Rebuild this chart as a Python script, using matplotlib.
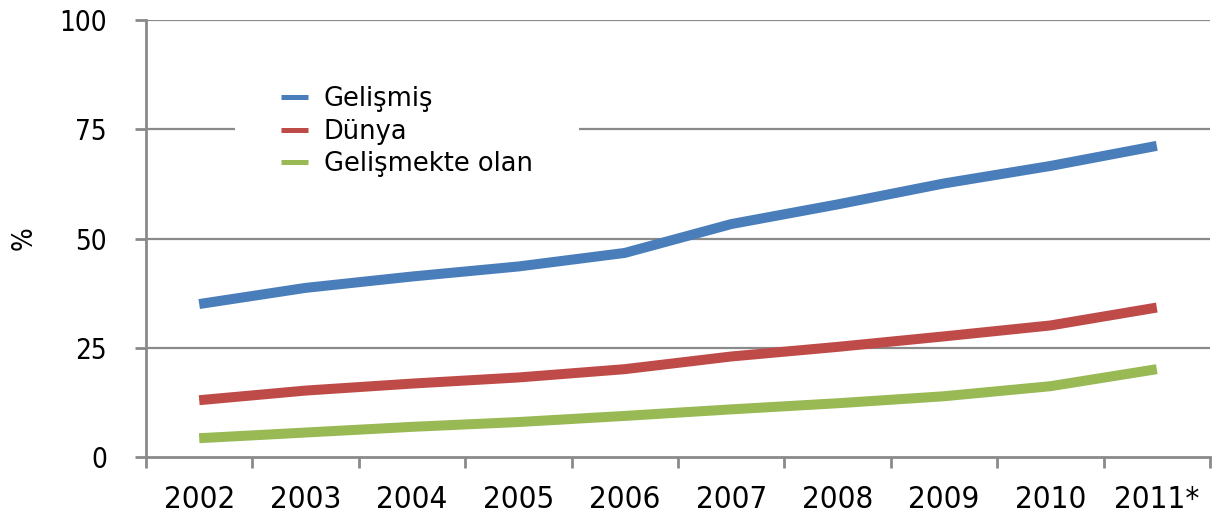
import matplotlib
matplotlib.use("Agg")
import matplotlib.pyplot as plt
from matplotlib import font_manager as fm
import numpy as np

years = ["2002", "2003", "2004", "2005", "2006", "2007", "2008", "2009", "2010", "2011*"]
gelismis = [35.0, 38.7, 41.3, 43.6, 46.7, 53.3, 57.8, 62.6, 66.6, 71.2]
dunya = [13.0, 15.2, 16.8, 18.2, 20.1, 23.0, 25.2, 27.6, 30.1, 34.2]
gelismekte = [4.3, 5.6, 6.9, 8.0, 9.4, 10.9, 12.3, 13.9, 16.2, 20.1]
series_names = ["Gelişmiş", "Dünya", "Gelişmekte olan"]
colors = ["#4A7EBB", "#BE4B48", "#98B954"]
yticks = [0, 25, 50, 75, 100]


def pick_narrow():
    cands = [("Liberation Sans Narrow", "normal"), ("DejaVu Sans", "condensed"), ("Roboto", "normal")]
    for fam, stretch in cands:
        try:
            p = fm.findfont(fm.FontProperties(family=fam, stretch=stretch), fallback_to_default=False)
        except Exception:
            continue
        if fam == "DejaVu Sans" and "ondensed" not in p:
            continue
        if fam == "Liberation Sans Narrow" and "arrow" not in p:
            continue
        return fam, stretch
    return "DejaVu Sans", "normal"


nfam, nstretch = pick_narrow()

W, H = 1231, 517
fig = plt.figure(figsize=(W / 100, H / 100), dpi=100)
ax = fig.add_axes([146 / W, (H - 457) / H, (1210 - 146) / W, (457 - 20) / H])

x = np.arange(len(years)) + 0.5
for vals, name, c in zip([gelismis, dunya, gelismekte], series_names, colors):
    ax.plot(x, vals, color=c, lw=7.2, solid_capstyle="butt", solid_joinstyle="round", label=name, zorder=3)

grid_c = "#8A8A8A"

ax.set_xlim(0, len(years))
ax.set_ylim(0, 100)
ax.set_yticks(yticks)
ax.set_yticklabels([str(v) for v in yticks], fontsize=20, family=nfam, fontstretch=nstretch)
ax.set_xticks(x)
ax.set_xticklabels(years, fontsize=22.5, family=nfam, fontstretch=nstretch)
ax.set_xticks(np.arange(len(years) + 1), minor=True)
ax.tick_params(axis="x", which="major", length=0, pad=20)
ax.tick_params(axis="x", which="minor", length=8, width=2, color=grid_c, direction="out")
ax.tick_params(axis="y", which="major", length=8, width=2, color=grid_c, direction="out", pad=20)

for v in yticks[1:]:
    ax.axhline(v, color=grid_c, lw=1.6, zorder=1)

for s in ["top", "right"]:
    ax.spines[s].set_visible(False)
for s in ["left", "bottom"]:
    ax.spines[s].set_color(grid_c)
    ax.spines[s].set_linewidth(2)

ax.set_ylabel("%", fontsize=20, family=nfam, fontstretch=nstretch)
ax.yaxis.set_label_coords(-108 / (1210 - 146), 0.5)

leg = ax.legend(loc="upper left", bbox_to_anchor=(235 / W, 1 - 40 / H), bbox_transform=fig.transFigure,
                borderaxespad=0, frameon=True, fancybox=False, facecolor="white", edgecolor="none", framealpha=1,
                prop={"family": "DejaVu Sans", "size": 18.5}, handlelength=1.05, handletextpad=0.6,
                labelspacing=0.25, borderpad=1.8)
for l in leg.get_lines():
    l.set_linewidth(3.6)
leg.set_zorder(2)

fig.savefig("out.png", dpi=100, facecolor="white")
